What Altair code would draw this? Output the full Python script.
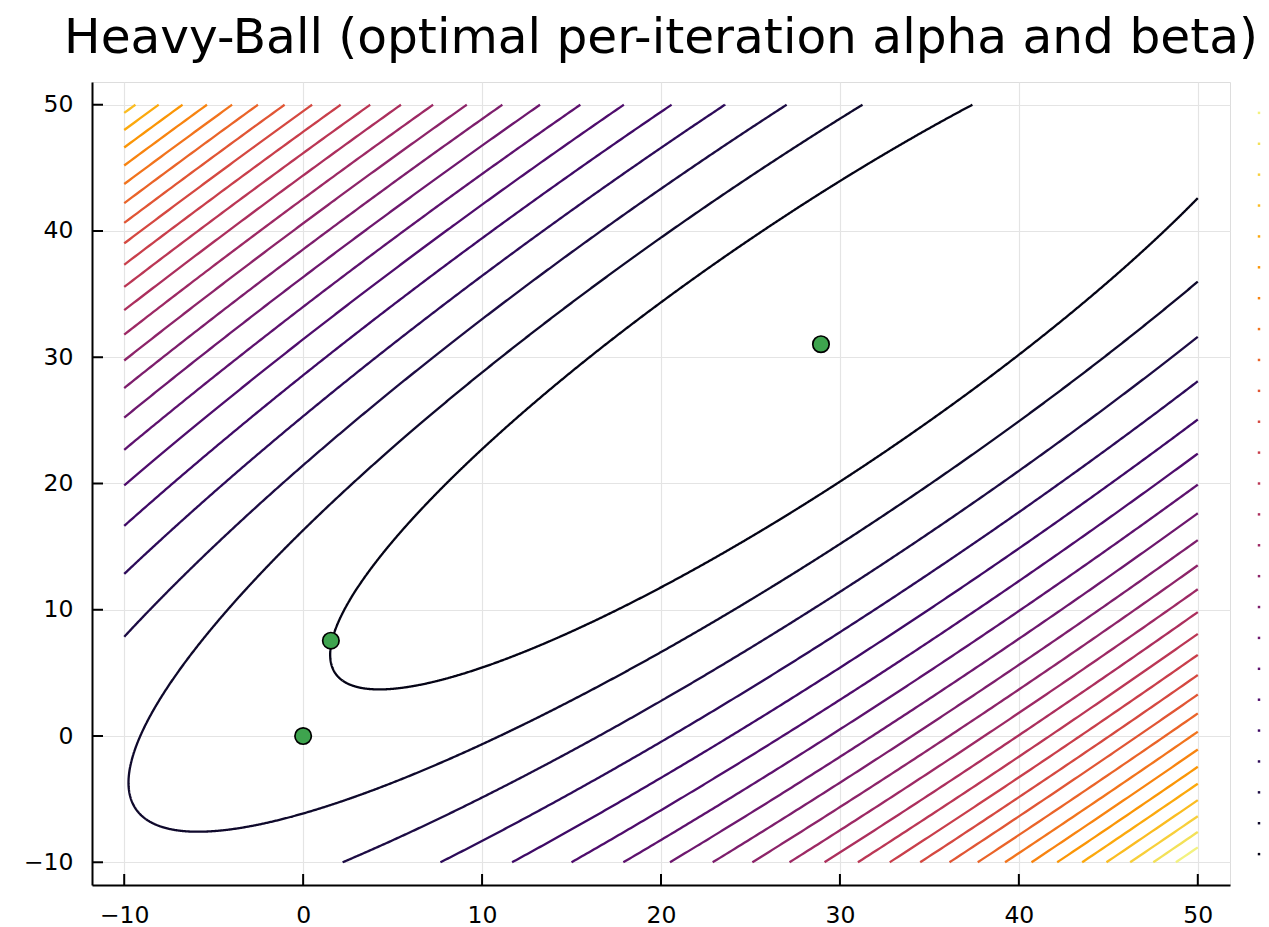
import numpy as np
import pandas as pd
import altair as alt

# ---- data ----
TITLE = "Heavy-Ball (optimal per-iteration alpha and beta)"
GRID_RANGE = [-10.0, 50.0]            # extent of the contour grid (both axes)
AXIS_DOMAIN = [-11.8, 51.8]           # plotted range
TICKS = [-10, 0, 10, 20, 30, 40, 50]
CENTER = [28.72, 30.90]               # minimiser of the quadratic
HESSIAN = [[1.0, -0.899], [-0.899, 1.0]]
LEVELS = [71, 142, 213, 284, 355, 426, 497, 568, 639, 710, 781, 852, 923,
          994, 1065, 1136, 1207, 1278, 1349, 1420, 1491, 1562, 1633, 1704, 1775]
Z_RANGE = [0, 1846]                   # colour bar range (min / max of f on grid)
ITER_X = [0.0, 1.55, 28.94]
ITER_Y = [0.0, 7.55, 31.03]

# ---- contour lines of f(x) = 0.5 (x-c)' H (x-c) ----
def clip_segment(p0, p1, lo, hi):
    x0, y0 = p0
    x1, y1 = p1
    dx, dy = x1 - x0, y1 - y0
    t0, t1 = 0.0, 1.0
    for p, q in ((-dx, x0 - lo), (dx, hi - x0), (-dy, y0 - lo), (dy, hi - y0)):
        if p == 0:
            if q < 0:
                return None
        else:
            r = q / p
            if p < 0:
                if r > t1:
                    return None
                t0 = max(t0, r)
            else:
                if r < t0:
                    return None
                t1 = min(t1, r)
    return t0, t1, (x0 + t0 * dx, y0 + t0 * dy), (x0 + t1 * dx, y0 + t1 * dy)

H = np.array(HESSIAN)
evals, evecs = np.linalg.eigh(H)
c = np.array(CENTER)
lo, hi = GRID_RANGE
rows = []
seg_id = 0
N = 3000
t = np.linspace(0, 2 * np.pi, N + 1)


def flush(cur, lev, sid):
    for j, (px, py) in enumerate(cur):
        rows.append((lev, sid, j, round(px, 3), round(py, 3)))


for lev in LEVELS:
    a = np.sqrt(2 * lev / evals)
    big = int(np.argmin(evals))
    small = 1 - big
    pts = (c[:, None]
           + evecs[:, big][:, None] * (a[big] * np.cos(t))[None, :]
           + evecs[:, small][:, None] * (a[small] * np.sin(t))[None, :]).T
    current = []
    for i in range(N):
        res = clip_segment(pts[i], pts[i + 1], lo, hi)
        if res is None:
            if current:
                flush(current, lev, seg_id)
                seg_id += 1
                current = []
            continue
        t0, t1, s, e = res
        if t0 > 0 or not current:
            if current:
                flush(current, lev, seg_id)
                seg_id += 1
            current = [s, e]
        else:
            current.append(e)
        if t1 < 1:
            flush(current, lev, seg_id)
            seg_id += 1
            current = []
    if current:
        flush(current, lev, seg_id)
        seg_id += 1

contours = pd.DataFrame(rows, columns=["level", "seg", "ord", "x", "y"])
iters = pd.DataFrame({"x": ITER_X, "y": ITER_Y})
ticks = pd.DataFrame({"x": TICKS, "y": TICKS})
cbar = pd.DataFrame({"level": LEVELS})

W, Hh = 1138, 803
FONT = "DejaVu Sans"

xs = alt.Scale(domain=AXIS_DOMAIN, nice=False, zero=False)
ys = alt.Scale(domain=AXIS_DOMAIN, nice=False, zero=False)
cs = alt.Scale(scheme="inferno", domain=Z_RANGE)

axis_common = dict(values=TICKS, format="d", grid=True, gridColor="#e4e4e4",
                   gridWidth=1.2, ticks=False, tickSize=0, domainColor="black",
                   domainWidth=2, labelFont=FONT, labelFontSize=23.5,
                   labelColor="black", title=None)
x_axis = alt.Axis(labelPadding=18, **axis_common)
y_axis = alt.Axis(labelPadding=19, **axis_common)

lines = alt.Chart(contours).mark_line(strokeWidth=2.3).encode(
    x=alt.X("x:Q", scale=xs, axis=x_axis),
    y=alt.Y("y:Q", scale=ys, axis=y_axis),
    color=alt.Color("level:Q", scale=cs, legend=None),
    detail="seg:N",
    order="ord:Q",
)

xticks = alt.Chart(ticks).mark_rule(color="black", strokeWidth=2).encode(
    x=alt.X("x:Q", scale=xs, axis=x_axis),
    y=alt.value(Hh),
    y2=alt.value(Hh - 11),
)
yticks = alt.Chart(ticks).mark_rule(color="black", strokeWidth=2).encode(
    y=alt.Y("y:Q", scale=ys, axis=None),
    x=alt.value(0),
    x2=alt.value(11),
)

points = alt.Chart(iters).mark_circle(
    size=270, color="#3ea44e", opacity=1, stroke="black", strokeWidth=1.7
).encode(
    x=alt.X("x:Q", scale=xs, axis=x_axis),
    y=alt.Y("y:Q", scale=ys, axis=None),
)

colorbar = alt.Chart(cbar).mark_square(size=6, opacity=1).encode(
    x=alt.value(1167),
    y=alt.Y("level:Q", scale=alt.Scale(domain=Z_RANGE, nice=False, zero=False), axis=None),
    color=alt.Color("level:Q", scale=cs, legend=None),
)

chart = alt.layer(lines, xticks, yticks, points, colorbar).resolve_scale(
    y="independent"
).properties(
    width=W,
    height=Hh,
    title=alt.Title(TITLE, font=FONT, fontSize=48.6, fontWeight="normal",
                    color="black", anchor="middle", baseline="alphabetic",
                    offset=-20),
    autosize=alt.AutoSizeParams(type="none"),
    padding={"left": 92, "top": 82, "right": 39, "bottom": 42},
).configure_view(stroke=None).configure(background="white")

chart.save("out.html", embed_options={"renderer": "svg", "actions": False})
